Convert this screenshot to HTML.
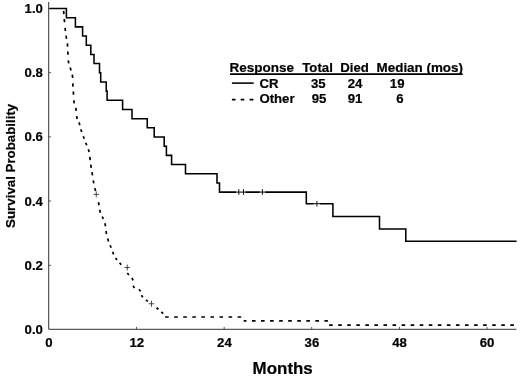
<!DOCTYPE html>
<html><head><meta charset="utf-8"><title>Survival</title>
<style>
html,body{margin:0;padding:0;background:#fff;}
svg{display:block;filter:grayscale(1);}
text{font-family:"Liberation Sans",sans-serif;font-weight:bold;fill:#000;stroke:#000;stroke-width:0.2px;}
.t{font-size:13.2px;}
.ax{stroke:#333;stroke-width:1;fill:none;}
.tk{stroke:#333;stroke-width:0.8;fill:none;}
.cr{stroke:#000;stroke-width:1.55;fill:none;stroke-linejoin:miter;}
.ot{stroke:#000;stroke-width:1.7;fill:none;}
.cs{stroke:#111;stroke-width:1;fill:none;}
.pl{stroke:#222;stroke-width:0.8;fill:none;}
</style></head><body>
<svg width="520" height="377" viewBox="0 0 520 377">
<rect width="520" height="377" fill="#fff"/>
<!-- axes -->
<path class="ax" d="M48.7,2 V329.3 H516.4"/>
<path class="tk" d="M48.7,8.5 h2.4 M48.7,72.7 h2.4 M48.7,136.9 h2.4 M48.7,201 h2.4 M48.7,265.3 h2.4 M136.5,329.3 v-2.4 M224.2,329.3 v-2.4 M311.7,329.3 v-2.4 M399.5,329.3 v-2.4 M487,329.3 v-2.4"/>
<!-- y tick labels -->
<g class="t" text-anchor="end">
<text x="42.9" y="12.8">1.0</text>
<text x="42.9" y="77.2">0.8</text>
<text x="42.9" y="141.35">0.6</text>
<text x="42.9" y="205.5">0.4</text>
<text x="42.9" y="269.9">0.2</text>
<text x="42.9" y="334.1">0.0</text>
</g>
<!-- x tick labels -->
<g class="t" text-anchor="middle">
<text x="48.8" y="347.2">0</text>
<text x="136.8" y="347.2">12</text>
<text x="224.4" y="347.2">24</text>
<text x="311.9" y="347.2">36</text>
<text x="399.6" y="347.2">48</text>
<text x="487.1" y="347.2">60</text>
</g>
<text x="282.7" y="373.8" text-anchor="middle" font-size="16.95">Months</text>
<text transform="translate(14.8,165.8) rotate(-90)" text-anchor="middle" font-size="13.3">Survival Probability</text>
<!-- legend -->
<g class="t">
<text x="229.5" y="71.8" font-size="13.5">Response</text>
<text x="302.3" y="71.8">Total</text>
<text x="340.3" y="71.8">Died</text>
<text x="376.6" y="71.8" font-size="13.4">Median (mos)</text>
<text x="259.4" y="87.9">CR</text>
<text x="259.4" y="103.4">Other</text>
</g>
<g class="t" text-anchor="end">
<text x="325.6" y="87.9">35</text>
<text x="362.3" y="87.9">24</text>
<text x="404.5" y="87.9">19</text>
<text x="326.4" y="103.4">95</text>
<text x="362.4" y="103.4">91</text>
<text x="403.6" y="103.4">6</text>
</g>
<path d="M230,74.1 H462.7" stroke="#000" stroke-width="1.6" fill="none"/>
<path class="cr" d="M231.9,83.1 H253.7"/>
<path class="ot" d="M231.9,99.7 h3.6 M240.7,99.7 h3.6 M249.6,99.7 h3.8"/>
<!-- Other curve (dotted) -->
<path class="ot" d="M63.62,10.88 L63.88,14.12 M64.26,18.99 L64.54,22.21 M65.07,27.81 L65.43,30.99 M66.03,35.69 L66.47,38.81 M67.33,43.40 L67.67,46.60 M67.80,51.46 L68.00,54.74 M68.24,60.37 L68.76,63.43 M70.21,67.59 L70.99,70.41 M72.28,74.69 L72.72,77.81 M72.81,83.35 L72.99,86.65 M73.29,91.46 L73.51,94.74 M73.75,100.36 L74.25,103.44 M75.72,107.89 L76.28,110.91 M76.55,116.04 L77.25,118.96 M78.95,122.39 L79.85,125.11 M80.82,129.23 L81.68,131.97 M83.26,136.18 L84.24,138.82 M85.75,142.69 L86.75,145.31 M88.38,149.17 L89.12,152.03 M89.78,156.94 L90.22,160.06 M90.77,164.70 L91.23,167.80 M92.00,172.21 L92.50,175.29 M93.22,180.39 L93.78,183.41 M94.85,188.15 L95.55,191.05 M98.42,202.28 L99.08,205.22 M99.60,209.84 L100.40,212.66 M102.24,216.45 L103.26,219.05 M104.90,223.29 L105.60,226.21 M105.97,230.99 L106.53,234.01 M107.67,238.62 L108.53,241.38 M110.10,245.19 L111.10,247.81 M112.54,251.86 L113.66,254.34 M115.53,257.94 L116.97,260.06 M119.62,262.76 L121.18,264.74 M127.32,273.01 L128.88,274.99 M131.95,277.85 L133.05,280.35 M133.05,285.82 L134.45,287.98 M138.92,289.37 L140.58,291.23 M141.37,295.20 L142.83,297.30 M145.91,299.81 L147.89,301.39 M156.51,307.72 L158.49,309.28 M161.32,311.91 L163.18,313.59"/>
<path class="ot" stroke-dasharray="3.6 5.46" d="M165.1,317 H243.7"/>
<path class="ot" stroke-dasharray="3.6 5.46" stroke-dashoffset="0.8" d="M243.7,320.8 H327.9"/>
<path class="ot" stroke-dasharray="3.6 5.46" stroke-dashoffset="7.46" d="M327.5,325.1 H516"/>
<!-- CR curve -->
<path class="cr" d="M49.4,8.50 H66.40 V17.68 H75.40 V26.86 H82.60 V36.04 H86.30 V45.22 H90.80 V54.40 H94.00 V63.58 H99.50 V72.76 H100.70 V81.94 H106.25 V91.12 H107.10 V100.30 H122.60 V109.48 H132.00 V118.66 H147.25 V127.84 H154.20 V137.02 H164.20 V146.20 H166.40 V155.38 H171.60 V164.56 H185.50 V173.74 H217.00 V182.92 H219.50 V192.10 H306.3 V203.7 H332.9 V216.4 H379.5 V229.0 H405.8 V241.3 H516.6"/>
<!-- censor marks -->
<path d="M236,192.1 H245.7 M259.7,192.1 H265.3 M313.6,203.7 H320" stroke="#fff" stroke-width="3" fill="none"/>
<path d="M235.5,192.1 H246.2 M259.2,192.1 H265.8 M313.1,203.7 H320.5" stroke="#000" stroke-width="1" fill="none"/>
<path class="cs" d="M238.8,189.2 v5.6 M243.5,189.2 v5.6 M262.4,189.2 v5.6 M316.9,200.9 v5.6"/>
<path class="pl" d="M96.25,191.4 v6 M93.5,194.4 h5.5 M127.25,264.5 v6 M124.5,267.5 h5.5 M151.5,300.75 v6 M148.75,303.75 h5.5"/>
</svg>
</body></html>
